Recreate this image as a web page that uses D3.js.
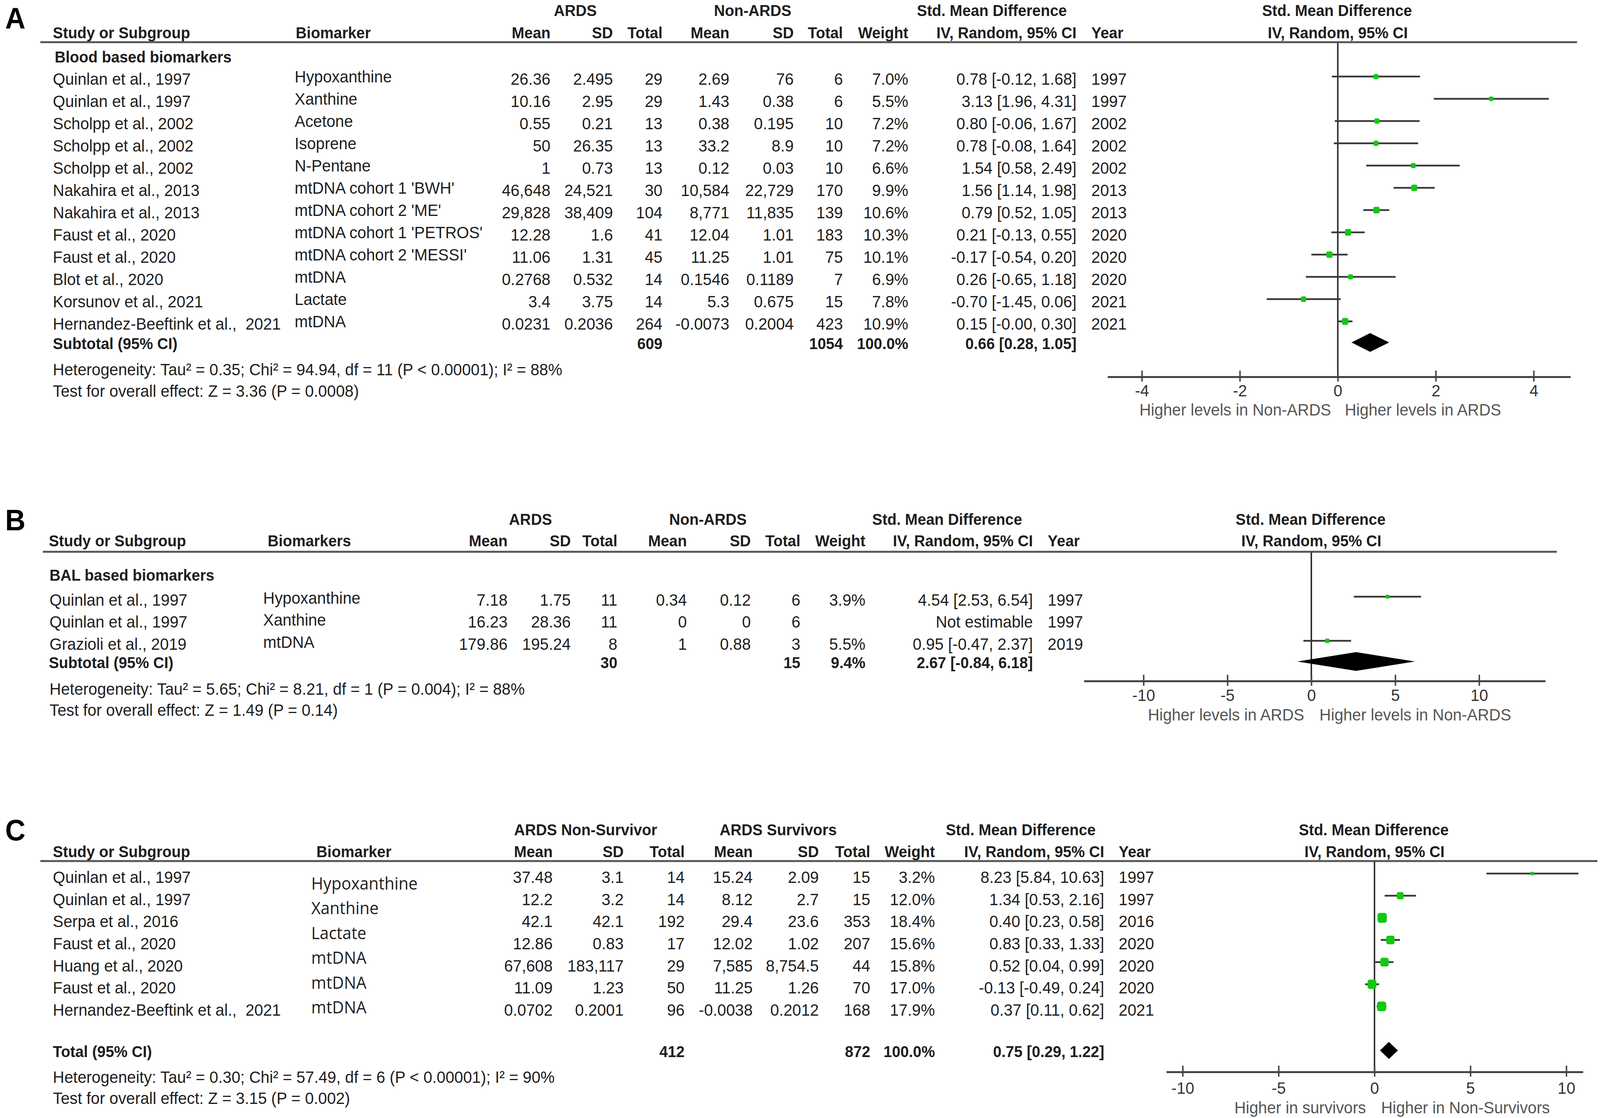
<!DOCTYPE html>
<html><head><meta charset="utf-8">
<script src="https://cdn.jsdelivr.net/npm/d3@7/dist/d3.min.js"></script>
<style>html,body{margin:0;padding:0;background:#fff;overflow:hidden;width:100%;height:100%;} svg{display:block;position:absolute;left:0;top:0;width:100vw;height:100vh;} text{white-space:pre;}</style>
</head><body>
<svg id="c" viewBox="0 0 4328 2863" preserveAspectRatio="none"></svg>
<script>
// ---------------- DATA ----------------
// Panel A
const aStudy = ["Quinlan et al., 1997","Quinlan et al., 1997","Scholpp et al., 2002","Scholpp et al., 2002","Scholpp et al., 2002","Nakahira et al., 2013","Nakahira et al., 2013","Faust et al., 2020","Faust et al., 2020","Blot et al., 2020","Korsunov et al., 2021","Hernandez-Beeftink et al.,  2021"];
const aBiomarker = ["Hypoxanthine","Xanthine","Acetone","Isoprene","N-Pentane","mtDNA cohort 1 'BWH'","mtDNA cohort 2 'ME'","mtDNA cohort 1 'PETROS'","mtDNA cohort 2 'MESSI'","mtDNA","Lactate","mtDNA"];
const aMean1 = ["26.36","10.16","0.55","50","1","46,648","29,828","12.28","11.06","0.2768","3.4","0.0231"];
const aSd1   = ["2.495","2.95","0.21","26.35","0.73","24,521","38,409","1.6","1.31","0.532","3.75","0.2036"];
const aN1    = [29,29,13,13,13,30,104,41,45,14,14,264];
const aMean2 = ["2.69","1.43","0.38","33.2","0.12","10,584","8,771","12.04","11.25","0.1546","5.3","-0.0073"];
const aSd2   = ["76","0.38","0.195","8.9","0.03","22,729","11,835","1.01","1.01","0.1189","0.675","0.2004"];
const aN2    = [6,6,10,10,10,170,139,183,75,7,15,423];
const aWeight= [7.0,5.5,7.2,7.2,6.6,9.9,10.6,10.3,10.1,6.9,7.8,10.9];
const aSmd   = [0.78,3.13,0.80,0.78,1.54,1.56,0.79,0.21,-0.17,0.26,-0.70,0.15];
const aLo    = [-0.12,1.96,-0.06,-0.08,0.58,1.14,0.52,-0.13,-0.54,-0.65,-1.45,-0.00];
const aHi    = [1.68,4.31,1.67,1.64,2.49,1.98,1.05,0.55,0.20,1.18,0.06,0.30];
const aYear  = [1997,1997,2002,2002,2002,2013,2013,2020,2020,2020,2021,2021];
const aTotal = {label:"Subtotal (95% CI)", n1:609, n2:1054, weight:100.0, smd:0.66, lo:0.28, hi:1.05};
const aGroups = ["ARDS","Non-ARDS","Std. Mean Difference"];
const aCols = ["Study or Subgroup","Biomarker","Mean","SD","Total","Mean","SD","Total","Weight","IV, Random, 95% CI","Year"];
const aSubgroup = "Blood based biomarkers";
const aHet = "Heterogeneity: Tau\u00b2 = 0.35; Chi\u00b2 = 94.94, df = 11 (P < 0.00001); I\u00b2 = 88%";
const aTest = "Test for overall effect: Z = 3.36 (P = 0.0008)";
const aTicks = [-4,-2,0,2,4];
const aCaption = ["Higher levels in Non-ARDS","Higher levels in ARDS"];

// Panel B
const bStudy = ["Quinlan et al., 1997","Quinlan et al., 1997","Grazioli et al., 2019"];
const bBiomarker = ["Hypoxanthine","Xanthine","mtDNA"];
const bMean1 = ["7.18","16.23","179.86"];
const bSd1   = ["1.75","28.36","195.24"];
const bN1    = [11,11,8];
const bMean2 = ["0.34","0","1"];
const bSd2   = ["0.12","0","0.88"];
const bN2    = [6,6,3];
const bWeight= [3.9,null,5.5];
const bSmd   = [4.54,null,0.95];
const bLo    = [2.53,null,-0.47];
const bHi    = [6.54,null,2.37];
const bYear  = [1997,1997,2019];
const bTotal = {label:"Subtotal (95% CI)", n1:30, n2:15, weight:9.4, smd:2.67, lo:-0.84, hi:6.18};
const bGroups = ["ARDS","Non-ARDS","Std. Mean Difference"];
const bCols = ["Study or Subgroup","Biomarkers","Mean","SD","Total","Mean","SD","Total","Weight","IV, Random, 95% CI","Year"];
const bSubgroup = "BAL based biomarkers";
const bHet = "Heterogeneity: Tau\u00b2 = 5.65; Chi\u00b2 = 8.21, df = 1 (P = 0.004); I\u00b2 = 88%";
const bTest = "Test for overall effect: Z = 1.49 (P = 0.14)";
const bTicks = [-10,-5,0,5,10];
const bCaption = ["Higher levels in ARDS","Higher levels in Non-ARDS"];

// Panel C
const cStudy = ["Quinlan et al., 1997","Quinlan et al., 1997","Serpa et al., 2016","Faust et al., 2020","Huang et al., 2020","Faust et al., 2020","Hernandez-Beeftink et al.,  2021"];
const cBiomarker = ["Hypoxanthine","Xanthine","Lactate","mtDNA","mtDNA","mtDNA"];
const cMean1 = ["37.48","12.2","42.1","12.86","67,608","11.09","0.0702"];
const cSd1   = ["3.1","3.2","42.1","0.83","183,117","1.23","0.2001"];
const cN1    = [14,14,192,17,29,50,96];
const cMean2 = ["15.24","8.12","29.4","12.02","7,585","11.25","-0.0038"];
const cSd2   = ["2.09","2.7","23.6","1.02","8,754.5","1.26","0.2012"];
const cN2    = [15,15,353,207,44,70,168];
const cWeight= [3.2,12.0,18.4,15.6,15.8,17.0,17.9];
const cSmd   = [8.23,1.34,0.40,0.83,0.52,-0.13,0.37];
const cLo    = [5.84,0.53,0.23,0.33,0.04,-0.49,0.11];
const cHi    = [10.63,2.16,0.58,1.33,0.99,0.24,0.62];
const cYear  = [1997,1997,2016,2020,2020,2020,2021];
const cTotal = {label:"Total (95% CI)", n1:412, n2:872, weight:100.0, smd:0.75, lo:0.29, hi:1.22};
const cGroups = ["ARDS Non-Survivor","ARDS Survivors","Std. Mean Difference"];
const cCols = ["Study or Subgroup","Biomarker","Mean","SD","Total","Mean","SD","Total","Weight","IV, Random, 95% CI","Year"];
const cSubgroup = null;
const cHet = "Heterogeneity: Tau\u00b2 = 0.30; Chi\u00b2 = 57.49, df = 6 (P < 0.00001); I\u00b2 = 90%";
const cTest = "Test for overall effect: Z = 3.15 (P = 0.002)";
const cTicks = [-10,-5,0,5,10];
const cCaption = ["Higher in survivors","Higher in Non-Survivors"];

// ---------------- RENDER ----------------
const svg = d3.select("#c");
svg.append("rect").attr("width",4328).attr("height",2863).attr("fill","#fff");
const FONT = "'Liberation Sans', Arial, Helvetica, sans-serif";
const TXT = "#1e1e1e";
const GREEN = "#12c912";
const LINE = "#383838";
const markSize = d3.scaleLinear().domain([3,19]).range([9,26]);

function fmt(v){ const neg = v<0 || Object.is(v,-0); return (neg?"-":"")+Math.abs(v).toFixed(2); }
function ciText(s,l,h){ return fmt(s)+" ["+fmt(l)+", "+fmt(h)+"]"; }

function text(g,x,y,s,o={}){
  return g.append("text").attr("x",x).attr("y",y).text(s)
    .attr("xml:space","preserve")
    .attr("text-anchor",o.anchor||"start")
    .attr("dominant-baseline","central")
    .attr("font-family",o.family||FONT)
    .attr("font-size",o.size||(o.bold?41:43))
    .attr("font-weight",o.bold?"bold":"normal")
    .attr("fill",o.fill||TXT);
}

function drawPanel(D, L){
  const g = svg.append("g");
  const C = L.cols;
  text(g, 14, L.letterY, L.letter, {size:76, bold:true, fill:"#000"});
  text(g, L.grp[0], L.h1, D.groups[0], {anchor:"middle", bold:true});
  text(g, L.grp[1], L.h1, D.groups[1], {anchor:"middle", bold:true});
  text(g, L.grp[2], L.h1, D.groups[2], {anchor:"middle", bold:true});
  const hx = [C.study, C.bioHdr, C.m1, C.s1, C.n1, C.m2, C.s2, C.n2, C.w, C.ci, C.yr];
  const ha = ["start","start","end","end","end","end","end","end","end","end","start"];
  D.cols.forEach((s,i)=> text(g, hx[i], L.h2, s, {anchor:ha[i], bold:true}));
  const x = d3.scaleLinear().domain(L.plot.domain).range(L.plot.range);
  const x0 = x(0);
  text(g, x0-2, L.h1, "Std. Mean Difference", {anchor:"middle", bold:true});
  text(g, x0, L.h2, "IV, Random, 95% CI", {anchor:"middle", bold:true});
  g.append("line").attr("x1",L.rule[0]).attr("x2",L.rule[1]).attr("y1",L.ruleY).attr("y2",L.ruleY)
    .attr("stroke","#555").attr("stroke-width",5);
  if (D.subgroup) text(g, L.subX, L.subY, D.subgroup, {bold:true});
  g.append("line").attr("x1",x0).attr("x2",x0).attr("y1",L.ruleY+2).attr("y2",L.plot.axisY)
    .attr("stroke","#2a2a2a").attr("stroke-width",4);
  const rowY = i => L.row0 + i*L.step;
  D.study.forEach((s,i)=>{
    const y = rowY(i);
    text(g, C.studyRow, y, s);
    text(g, C.m1, y, D.mean1[i], {anchor:"end"});
    text(g, C.s1, y, D.sd1[i], {anchor:"end"});
    text(g, C.n1, y, D.n1[i], {anchor:"end"});
    text(g, C.m2, y, D.mean2[i], {anchor:"end"});
    text(g, C.s2, y, D.sd2[i], {anchor:"end"});
    text(g, C.n2, y, D.n2[i], {anchor:"end"});
    if (D.weight[i]!=null) text(g, C.w, y, D.weight[i].toFixed(1)+"%", {anchor:"end"});
    text(g, C.ci, y, D.smd[i]!=null ? ciText(D.smd[i],D.lo[i],D.hi[i]) : "Not estimable", {anchor:"end"});
    text(g, C.yr, y, D.year[i]);
    if (D.smd[i]!=null){
      const my = y + L.markDy;
      g.append("line").attr("x1",x(D.lo[i])).attr("x2",x(D.hi[i])).attr("y1",my).attr("y2",my)
        .attr("stroke",LINE).attr("stroke-width",4.5);
      const sz = markSize(D.weight[i]);
      g.append("rect").attr("x",x(D.smd[i])-sz/2).attr("y",my-sz/2).attr("width",sz).attr("height",sz)
        .attr("rx",sz*0.25).attr("fill",GREEN);
    }
  });
  D.biomarker.forEach((s,i)=>{
    const y = L.bioY ? L.bioY(i) : rowY(i)+L.bioDy;
    text(g, C.bio, y, s, {family:L.bioFont||FONT, size:L.bioSize||43});
  });
  const T = D.total;
  text(g, C.study, L.totY, T.label, {bold:true});
  text(g, C.n1, L.totY, T.n1, {anchor:"end", bold:true});
  text(g, C.n2, L.totY, T.n2, {anchor:"end", bold:true});
  text(g, C.w, L.totY, T.weight.toFixed(1)+"%", {anchor:"end", bold:true});
  text(g, C.ci, L.totY, ciText(T.smd,T.lo,T.hi), {anchor:"end", bold:true});
  const dy = L.totY - 3, dh = L.diaH;
  g.append("path").attr("d", d3.line()([[x(T.lo),dy],[x(T.smd),dy-dh],[x(T.hi),dy],[x(T.smd),dy+dh]])+"Z")
    .attr("fill","#000");
  text(g, L.hetX, L.hetY, D.het);
  text(g, L.hetX, L.testY, D.test);
  const ax = g.append("g").attr("transform",`translate(0,${L.plot.axisY})`)
    .call(d3.axisBottom(x).tickValues(D.ticks).tickSize(0).tickSizeOuter(0).tickFormat(d=>String(d)));
  ax.select(".domain").attr("stroke","#444").attr("stroke-width",5);
  ax.selectAll(".tick line").attr("y1",-16).attr("y2",12).attr("stroke","#444").attr("stroke-width",4);
  ax.selectAll(".tick text").attr("y", L.plot.tickY - L.plot.axisY).attr("dy",null)
    .attr("dominant-baseline","central").attr("font-size",43).attr("font-family",FONT).attr("fill","#333");
  text(g, x0 - L.plot.capL, L.plot.capY, D.caption[0], {anchor:"end", fill:"#555"});
  text(g, x0 + L.plot.capR, L.plot.capY, D.caption[1], {anchor:"start", fill:"#555"});
}

const A = {study:aStudy, biomarker:aBiomarker, mean1:aMean1, sd1:aSd1, n1:aN1, mean2:aMean2, sd2:aSd2, n2:aN2,
  weight:aWeight, smd:aSmd, lo:aLo, hi:aHi, year:aYear, total:aTotal, groups:aGroups, cols:aCols,
  subgroup:aSubgroup, het:aHet, test:aTest, ticks:aTicks, caption:aCaption};
const B = {study:bStudy, biomarker:bBiomarker, mean1:bMean1, sd1:bSd1, n1:bN1, mean2:bMean2, sd2:bSd2, n2:bN2,
  weight:bWeight, smd:bSmd, lo:bLo, hi:bHi, year:bYear, total:bTotal, groups:bGroups, cols:bCols,
  subgroup:bSubgroup, het:bHet, test:bTest, ticks:bTicks, caption:bCaption};
const Cc = {study:cStudy, biomarker:cBiomarker, mean1:cMean1, sd1:cSd1, n1:cN1, mean2:cMean2, sd2:cSd2, n2:cN2,
  weight:cWeight, smd:cSmd, lo:cLo, hi:cHi, year:cYear, total:cTotal, groups:cGroups, cols:cCols,
  subgroup:cSubgroup, het:cHet, test:cTest, ticks:cTicks, caption:cCaption};

drawPanel(A, {letter:"A", letterY:47, h1:27, h2:84, ruleY:108, rule:[109,4266],
  subX:148, subY:146, row0:202, step:57.0, totY:880, hetX:143, hetY:946, testY:1001,
  bioDy:-6, markDy:-6, diaH:24, grp:[1556,2036,2683],
  cols:{study:143, studyRow:143, bioHdr:800, bio:797, m1:1489, s1:1658, n1:1792, m2:1973, s2:2147, n2:2280, w:2457, ci:2912, yr:2952},
  plot:{domain:[-4.7,4.75], range:[2996,4248], axisY:965, tickY:1000, capY:1049, capL:18, capR:19}});

drawPanel(B, {letter:"B", letterY:1332, h1:1330, h2:1385, ruleY:1413, rule:[116,4211],
  subX:134, subY:1473, row0:1536, step:56.5, totY:1697, hetX:134, hetY:1764, testY:1818,
  bioDy:-5, markDy:-8, diaH:24, grp:[1435,1915,2562],
  cols:{study:132, studyRow:134, bioHdr:724, bio:712, m1:1373, s1:1544, n1:1670, m2:1858, s2:2031, n2:2165, w:2341, ci:2794, yr:2834},
  plot:{domain:[-13.55,13.94], range:[2932,4180], axisY:1744, tickY:1780, capY:1830, capL:19, capR:22}});

const cBioScale = d3.scaleLinear().domain([0,5]).range([2261,2578]);
drawPanel(Cc, {letter:"C", letterY:2126, h1:2125, h2:2181, ruleY:2205, rule:[109,4321],
  subX:143, subY:0, row0:2246, step:56.7, totY:2693, hetX:143, hetY:2758, testY:2812,
  bioY: i => cBioScale(i), bioFont:"'Open Sans', 'DejaVu Sans', sans-serif", bioSize:44,
  markDy:-9, diaH:22, grp:[1584,2105,2761],
  cols:{study:143, studyRow:143, bioHdr:856, bio:842, m1:1495, s1:1687, n1:1852, m2:2036, s2:2215, n2:2354, w:2529, ci:2987, yr:3026},
  plot:{domain:[-10.85,10.87], range:[3155,4282], axisY:2745, tickY:2786, capY:2836, capL:23, capR:18}});
</script>
</body></html>
